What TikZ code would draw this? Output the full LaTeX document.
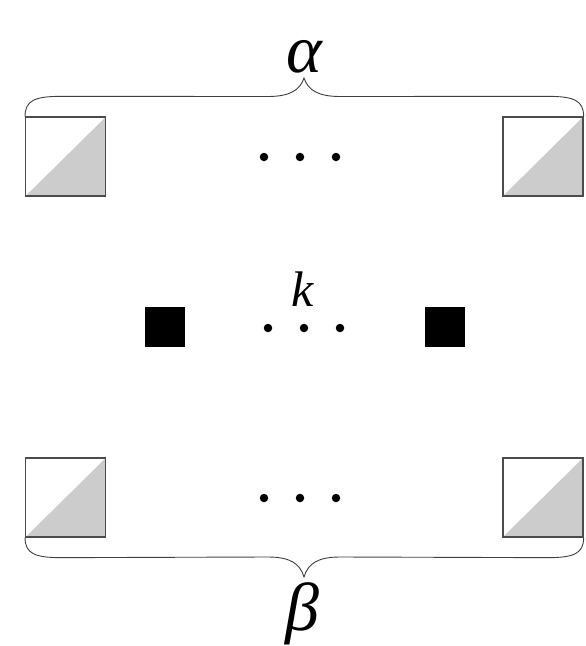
\documentclass[tikz,border=0pt]{standalone}
\usepackage{fontspec}
\setmainfont{Liberation Serif}
\begin{document}
\begin{tikzpicture}[x=1pt,y=-1pt,
  halfbox/.style={draw=black!70,line width=1.3pt,minimum width=80pt,minimum height=79pt,inner sep=0pt,
    path picture={\fill[black!20] (path picture bounding box.south west) -- (path picture bounding box.north east) -- (path picture bounding box.south east) -- cycle;}},
  blackbox/.style={fill=black,minimum width=40pt,minimum height=40pt,inner sep=0pt},
  dotnode/.style={circle,fill=black,minimum size=8.5pt,inner sep=0pt},
  bracepath/.style={draw=black!75,line width=0.9pt},
  greek/.style={inner sep=0pt,font=\fontsize{68}{68}\selectfont\itshape}]
\useasboundingbox (0,0) rectangle (586,646);
% top row
\node[halfbox] (tl) at (65.7,156.5) {};
\node[halfbox] (tr) at (543,156.5) {};
\node[dotnode] (td1) at (264,157) {};
\node[dotnode] (td2) at (300,157) {};
\node[dotnode] (td3) at (336,157) {};
% middle row
\node[blackbox] (ml) at (165,326.5) {};
\node[blackbox] (mr) at (444.5,326.5) {};
\node[dotnode] (md1) at (268,328) {};
\node[dotnode] (md2) at (304,328) {};
\node[dotnode] (md3) at (340,328) {};
\node[inner sep=0pt,anchor=south,font=\fontsize{50}{50}\selectfont\itshape] (k) at (303,307) {k};
% bottom row
\node[halfbox] (bl) at (65.7,497.5) {};
\node[halfbox] (br) at (543,497.5) {};
\node[dotnode] (bd1) at (264,498) {};
\node[dotnode] (bd2) at (300,498) {};
\node[dotnode] (bd3) at (336,498) {};
% braces
\coordinate (ttip) at (304,78);
\coordinate (btip) at (304,577);
\draw[bracepath] (tl.north west) .. controls ([yshift=16pt]tl.north west) and ([xshift=10pt,yshift=20pt]tl.north west) .. ([xshift=36pt,yshift=20pt]tl.north west)
  -- (268,96.5) .. controls (290,96.5) and (300,90) .. (ttip)
  .. controls (308,90) and (318,96.5) .. (340,96.5)
  -- ([xshift=-36pt,yshift=20pt]tr.north east) .. controls ([xshift=-10pt,yshift=20pt]tr.north east) and ([yshift=16pt]tr.north east) .. (tr.north east);
\draw[bracepath] (bl.south west) .. controls ([yshift=-16pt]bl.south west) and ([xshift=10pt,yshift=-20pt]bl.south west) .. ([xshift=36pt,yshift=-20pt]bl.south west)
  -- (268,557) .. controls (290,557) and (300,563.5) .. (btip)
  .. controls (308,563.5) and (318,557) .. (340,557)
  -- ([xshift=-36pt,yshift=-20pt]br.south east) .. controls ([xshift=-10pt,yshift=-20pt]br.south east) and ([yshift=-16pt]br.south east) .. (br.south east);
\node[greek,anchor=south] (alpha) at (304,73) {α};
\node[greek,anchor=north] (beta) at (302,582) {β};
\end{tikzpicture}
\end{document}
